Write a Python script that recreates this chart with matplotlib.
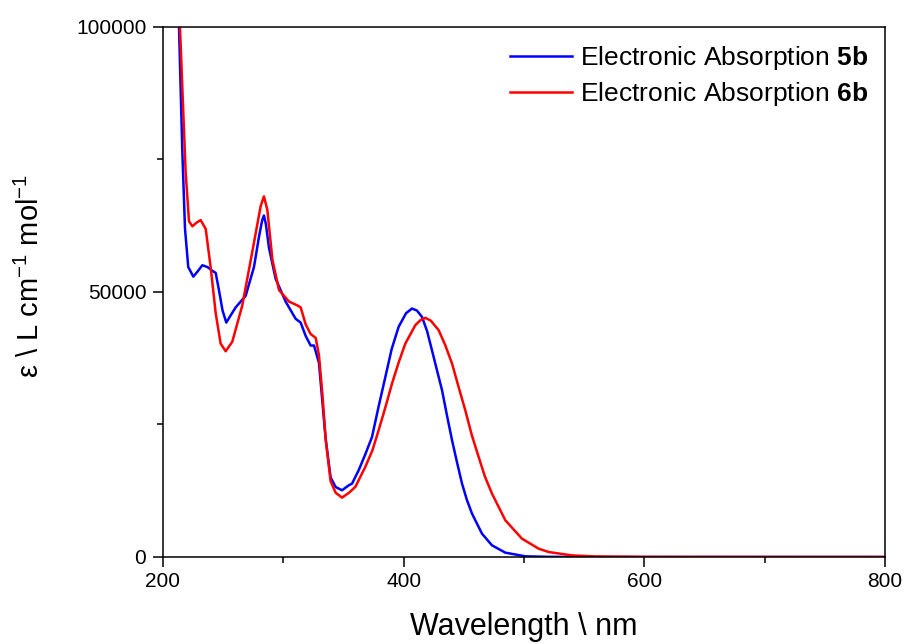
import numpy as np
import matplotlib
matplotlib.use("Agg")
import matplotlib.pyplot as plt
from matplotlib.ticker import MultipleLocator

plt.rcParams["font.family"] = ["Liberation Sans", "DejaVu Sans"]
plt.rcParams["mathtext.fontset"] = "custom"
plt.rcParams["mathtext.rm"] = "Liberation Sans"
plt.rcParams["mathtext.bf"] = "Liberation Sans:bold"

# absorption spectrum of 5b (wavelength nm, epsilon L cm-1 mol-1)
wl_5b = [212, 213.3, 216.1, 218.3, 221.0, 225.2, 228.5, 232.7, 237.0, 241.0, 243.8,
         246.5, 249.5, 252.6, 256.0, 260.4, 268.7, 275.6, 279.8, 282.5, 283.9, 285.5,
         288.1, 293.6, 301.9, 310.2, 314.4, 318.6, 322.7, 325.5, 329.6, 332.4, 335.2,
         339.3, 343.5, 348.8, 354.6, 357.1, 362.6, 368.0, 373.7, 379.0, 384.8, 390.0,
         395.8, 402.0, 406.9, 411.0, 415.2, 419.5, 423.5, 427.5, 431.9, 436.0, 440.2,
         444.5, 448.5, 452.5, 456.8, 465.1, 473.4, 484.5, 501.0, 520.0, 560.0, 800.0]
eps_5b = [110000, 100000, 76300, 61900, 54700, 52900, 53800, 55050, 54700, 54000, 53600,
          50360, 46500, 44230, 45500, 47100, 49280, 54700, 60460, 63600, 64430, 62800,
          58300, 52500, 48200, 44950, 44230, 41700, 39900, 39900, 36650, 29440, 22220,
          15000, 13200, 12590, 13560, 13840, 16360, 19300, 22650, 28200, 33980, 39200,
          43420, 46000, 46880, 46500, 45310, 42600, 39020, 35400, 31460, 26700, 22030,
          17700, 13840, 10800, 8180, 4400, 2200, 820, 130, 30, 0, 0]

# absorption spectrum of 6b
wl_6b = [212, 214.1, 218.8, 221.6, 224.4, 228.0, 231.3, 235.5, 239.6, 243.8, 247.9,
         252.1, 257.6, 265.9, 274.2, 281.2, 283.9, 286.7, 290.9, 296.4, 304.7, 311.6,
         314.4, 318.6, 322.7, 326.9, 329.6, 332.4, 335.2, 339.3, 343.5, 348.8, 354.6,
         359.8, 368.1, 374.0, 379.2, 385.0, 390.3, 396.0, 401.4, 409.7, 414.0, 418.0,
         422.5, 429.1, 434.5, 440.2, 445.5, 451.2, 456.5, 462.3, 467.5, 473.4, 484.5,
         498.3, 512.2, 520.5, 540.0, 560.0, 600.0, 800.0]
eps_6b = [112000, 100000, 72700, 63350, 62400, 63100, 63560, 61900, 54700, 46000, 40260,
          38820, 40620, 47470, 57580, 66230, 68040, 65510, 56130, 50360, 48200, 47470,
          47100, 43870, 42060, 41340, 38100, 30880, 22220, 14290, 12120, 11200, 12120,
          13220, 16990, 20100, 23910, 28400, 32720, 36800, 40270, 43740, 44700, 45120,
          44600, 42790, 40000, 36500, 32200, 27690, 23100, 18880, 15200, 11960, 6920,
          3460, 1570, 940, 300, 100, 20, 0]

fig = plt.figure(figsize=(9.05, 6.44), dpi=100)
ax = fig.add_axes([0.1801, 0.1351, 0.7978, 0.8230])

ax.plot(wl_5b, eps_5b, color="#0000ff", lw=1.8, solid_joinstyle="round",
        label=r"Electronic Absorption $\mathbf{5b}$")
ax.plot(wl_6b, eps_6b, color="#ff0000", lw=1.8, solid_joinstyle="round",
        label=r"Electronic Absorption $\mathbf{6b}$")

ax.set_xlim(200, 800)
ax.set_ylim(0, 100000)
ax.xaxis.set_major_locator(MultipleLocator(200))
ax.xaxis.set_minor_locator(MultipleLocator(100))
ax.yaxis.set_major_locator(MultipleLocator(50000))
ax.yaxis.set_minor_locator(MultipleLocator(25000))

for s in ax.spines.values():
    s.set_linewidth(1.1)
ax.tick_params(which="major", direction="out", length=7, width=1.1, labelsize=15)
ax.tick_params(which="minor", direction="out", length=4, width=1.1)
ax.tick_params(axis="x", pad=4)
ax.tick_params(axis="y", pad=5)

ax.set_xlabel(r"Wavelength \ nm", fontsize=22)
ax.set_ylabel(r"ε \ L cm$^{-1}$ mol$^{-1}$", fontsize=21)
ax.xaxis.set_label_coords(0.5, -0.104)
ax.yaxis.set_label_coords(-0.163, 0.53)

ax.legend(loc="upper right", frameon=False, fontsize=19, handlelength=2.35,
          handletextpad=0.27, labelspacing=0.3, borderaxespad=0.25)

fig.savefig("out.png", dpi=100)
